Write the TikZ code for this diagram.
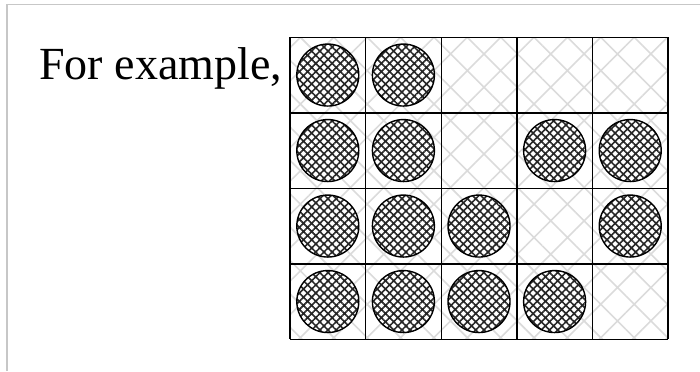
\documentclass[tikz,border=0pt]{standalone}
\usepackage{fontspec}
\setmainfont{Liberation Serif}
\usetikzlibrary{patterns.meta}

\tikzset{
  board/.style={pattern={Hatch[angle=45,distance=11.8pt,line width=0.8pt]}, pattern color=black!14},
  ball/.style={draw=black, line width=0.7pt, preaction={fill=white},
    pattern={Hatch[angle=45,distance=2.9pt,line width=0.8pt]}, pattern color=black!85},
}

\begin{document}
\begin{tikzpicture}[x=0.5pt,y=-0.5pt]
  \useasboundingbox (0,0) rectangle (700,371);
  % page frame
  \draw[black!22, line width=0.65pt] (7,371)--(7,4.7)--(700,4.7);

  \node[anchor=base west, inner sep=0pt, font=\fontsize{23}{28}\selectfont] (lead) at (39,79) {For example,};

  % board, cells 75.6 x 75.5
  \fill[board] (290,37.3) rectangle (668,339.3);
  \foreach \i in {0,...,5}
    \draw[line width=0.7pt] (290+75.6*\i,37.3)--(290+75.6*\i,339.3);
  \foreach \j in {0,...,4}
    \draw[line width=0.7pt] (290,37.3+75.5*\j)--(668,37.3+75.5*\j);

  % balls (row/column)
  \foreach \r/\c in {1/1,1/2, 2/1,2/2,2/4,2/5, 3/1,3/2,3/3,3/5, 4/1,4/2,4/3,4/4}
    \draw[ball] (290+75.6*\c-37.8,37.3+75.5*\r-37.75) circle (31);
\end{tikzpicture}
\end{document}
